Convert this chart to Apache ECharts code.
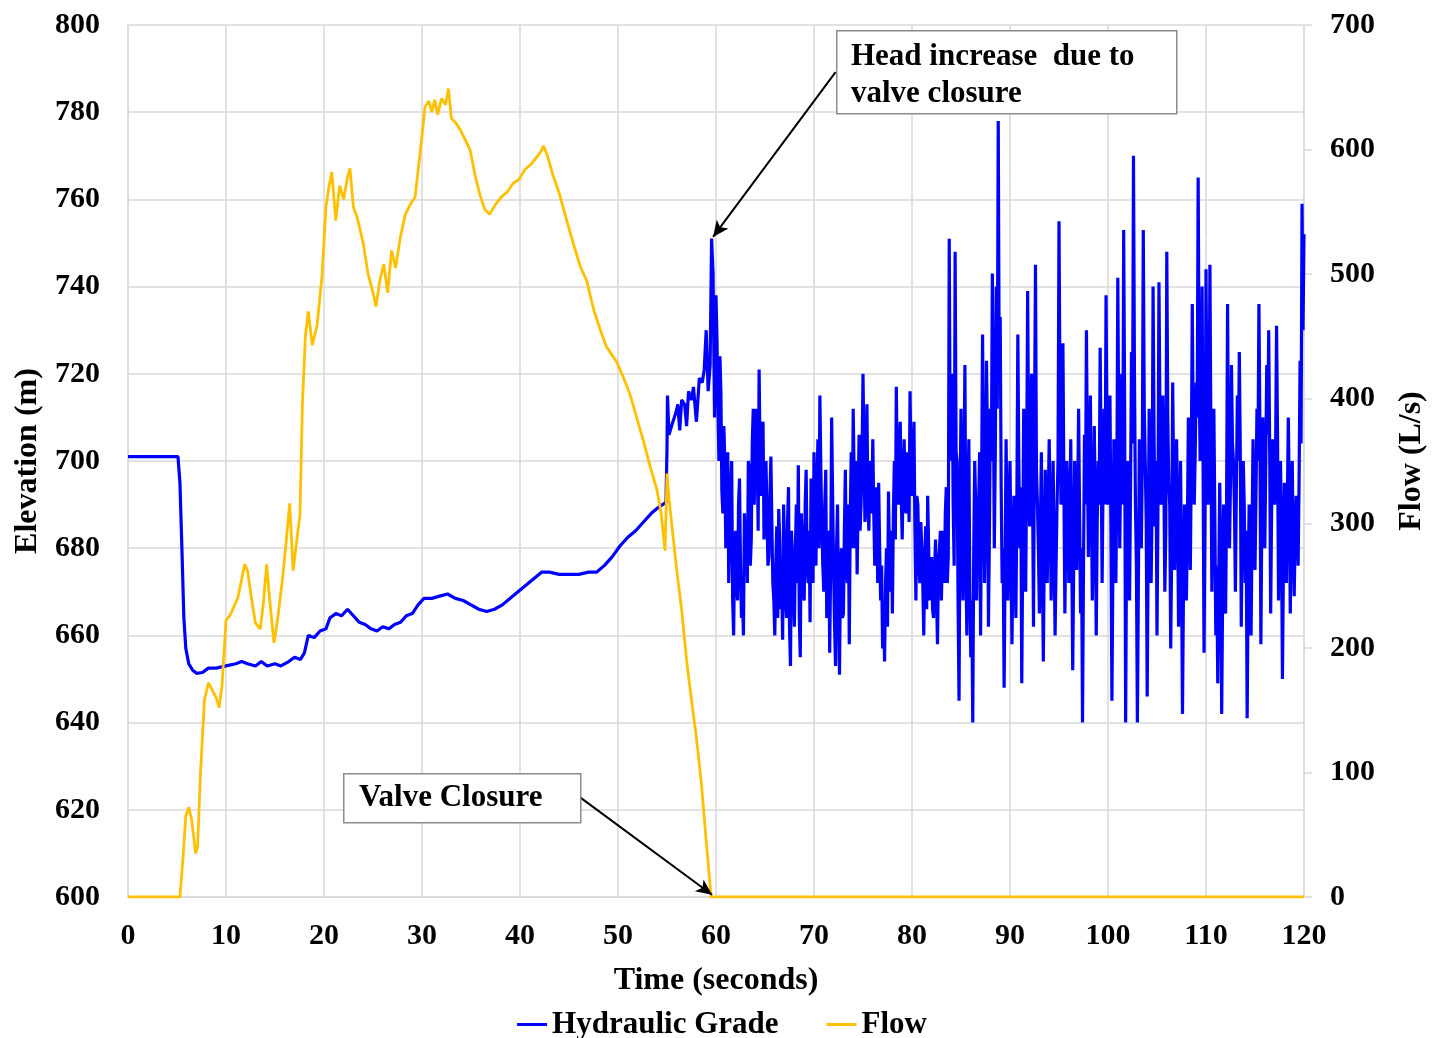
<!DOCTYPE html>
<html lang="en">
<head>
<meta charset="UTF-8">
<title>Hydraulic Grade and Flow</title>
<script src="https://cdn.jsdelivr.net/npm/echarts@6.0.0/dist/echarts.min.js"></script>
<style>
  html, body { margin: 0; padding: 0; background: #fff; }
  #chart { width: 1444px; height: 1038px; }
</style>
</head>
<body>
<div id="chart"></div>
<script type="text/javascript">
// hydraulic grade before the valve shuts: [time s, elevation m]
var headBefore = [
  [0,701],[5.1,701],[5.3,695],[5.5,680],[5.7,664],[5.9,657],[6.2,653.5],[6.6,652],[7.0,651.3],
  [7.6,651.5],[8.2,652.5],[9,652.5],[10,653],[11,653.5],[11.6,654],[12.2,653.5],[13,653],
  [13.6,654],[14.2,653],[15,653.5],[15.6,653],[16.4,654],[17,655],[17.6,654.5],[18.0,656],
  [18.4,660],[19,659.5],[19.6,661],[20.2,661.5],[20.6,664],[21.2,665],[21.8,664.5],[22.4,666],
  [23,664.5],[23.6,663],[24.2,662.5],[24.8,661.5],[25.4,661],[26,662],[26.6,661.5],[27.2,662.5],
  [27.8,663],[28.4,664.5],[29,665],[29.6,667],[30.2,668.5],[31,668.5],[31.8,669],[32.6,669.5],
  [33.4,668.5],[34.2,668],[35,667],[35.8,666],[36.6,665.5],[37.4,666],[38.2,667],[39,668.5],
  [39.8,670],[40.6,671.5],[41.4,673],[42.2,674.5],[43,674.5],[44,674],[45,674],[46,674],
  [47,674.5],[47.8,674.5],[48.6,676],[49.4,678],[50.2,680.5],[51,682.5],[51.8,684],[52.6,686],
  [53.4,688],[54.2,689.5],[54.9,690.5],[55.0,703],[55.05,715],[55.2,706],[55.6,709],[55.9,711],
  [56.1,713],[56.3,707],[56.5,714],[56.8,713],[57.0,708],[57.2,716],[57.5,714],[57.7,717],
  [58.0,709],[58.3,719],[58.6,718],[58.8,721],[59.0,730],[59.2,716],[59.4,722],[59.55,751],
  [59.7,743],[59.85,710]
];

// hydraulic grade after closure: swing readings at 60.0, 60.2, 60.4 ... s
var surgeStart = 60, surgeStep = 0.2;
var headSurge = [
  738,712,724,693,708,  680,702,672,700,660,  684,668,696,664,660,  680,672,698,682,712,
  690,705,721,692,709,  688,700,678,701,672,  660,685,689,666,659,  680,664,694,653,678,
  662,690,699,655,682,  668,698,672,663,690,  702,676,705,715,685,  670,698,666,656,710,
  675,653,690,651,680,  665,698,672,658,702,  712,680,674,706,690,  720,686,713,684,700,
  705,676,690,695,668,  657,654,680,693,670,  665,700,717,690,709,  682,705,688,700,716,
  692,709,668,690,672,  680,660,685,692,668,  678,664,682,658,676,  668,684,688,672,751,
  700,690,748,700,645,  712,668,722,660,705,  655,640,700,668,690,  660,729,672,723,662,
  712,743,680,740,778,  733,672,648,705,668,  700,658,692,664,729,  680,649,712,670,739,
  685,720,662,745,690,  665,702,654,698,672,  705,668,700,660,690,  755,690,727,665,700,
  672,705,652,700,675,  712,665,640,706,730,  678,715,668,708,660,  700,726,672,712,738,
  690,715,645,705,672,  742,680,720,753,640,  700,668,725,770,690,  640,705,680,753,700,
  646,712,672,740,685,  660,741,690,715,670,  748,695,657,718,675,  705,662,700,642,690,
  668,710,675,736,690,  718,765,700,740,656,  744,690,745,670,712,  660,649,695,642,690,
  665,736,680,722,700,  670,715,725,662,700,  672,641,690,660,705,  675,712,736,658,710,
  680,722,730,665,705,  690,731,668,700,650,  695,672,710,665,700,  669,692,676,723,759,
  752
];
// readings in between, at 60.1, 60.3, 60.5 ... s (the dense core of the band)
var headSurgeMid = [
  728,700,716,688,700,  690,672,694,668,680,  672,690,676,670,688,  686,700,676,704,690,
  712,684,700,708,682,  700,676,692,686,668,  676,664,682,672,690,  668,686,662,684,670,
  680,672,664,688,670,  690,676,684,696,672,  688,694,680,698,676,  690,664,684,676,692,
  662,680,668,674,664,  684,676,690,688,680,  696,700,690,684,700,  702,696,690,700,688,
  688,694,672,680,676,  668,672,662,678,684,  688,682,696,704,692,  696,690,702,686,698,
  700,684,692,676,686,  672,678,666,680,676,  666,674,670,676,684,  680,672,694,678,700,
  720,676,702,668,690,  684,698,676,690,670,  668,680,690,684,702,  694,700,688,706,684,
  700,716,702,712,720,  694,680,676,684,690,  680,676,684,690,700,  694,680,690,698,704,
  700,694,708,698,680,  684,676,680,684,690,  688,684,680,676,700,  716,700,694,684,690,
  686,680,676,684,690,  688,680,676,690,700,  696,692,684,690,686,  690,700,696,690,704,
  700,684,676,690,694,  706,700,690,712,684,  688,694,704,720,676,  672,690,700,712,686,
  680,694,690,706,700,  690,712,700,696,684,  710,690,680,696,690,  688,680,676,670,684,
  684,690,700,706,702,  710,720,704,700,686,  712,700,706,690,688,  676,672,680,670,676,
  690,700,696,704,690,  694,700,702,686,690,  684,672,678,684,690,  692,700,708,688,696,
  700,706,702,690,694,  702,706,690,684,676,  684,690,692,686,680,  684,690,696,704,730
];

// flow through the valve: [time s, L/s]
var flowData = [
  [0,0],[5.3,0],[5.6,30],[5.9,65],[6.2,72],[6.5,62],[6.9,35],[7.1,40],[7.4,100],[7.8,158],
  [8.2,172],[8.6,166],[9.0,160],[9.3,152],[9.6,170],[10.0,222],[10.4,226],[10.8,233],[11.2,240],
  [11.6,255],[11.9,267],[12.2,262],[12.5,245],[13.0,220],[13.5,215],[13.8,235],[14.15,267],
  [14.5,235],[14.9,204],[15.3,225],[15.8,258],[16.2,290],[16.5,316],[16.85,262],[17.2,285],
  [17.55,307],[17.8,396],[18.1,450],[18.4,470],[18.8,443],[19.3,459],[19.8,499],[20.2,554],
  [20.5,570],[20.8,582],[21.2,543],[21.6,571],[22.0,560],[22.4,578],[22.65,585],[23.0,554],
  [23.4,545],[24.0,525],[24.5,500],[25.0,485],[25.3,474],[25.7,495],[26.1,508],[26.5,485],
  [26.9,519],[27.3,505],[27.8,530],[28.3,548],[28.8,556],[29.3,562],[29.7,590],[30.0,611],
  [30.3,634],[30.7,639],[31.0,630],[31.3,640],[31.6,628],[32.0,641],[32.4,636],[32.7,649],
  [33.0,625],[33.4,622],[33.9,616],[34.4,608],[34.9,600],[35.4,580],[35.9,564],[36.4,552],
  [36.9,548],[37.5,556],[38.1,562],[38.7,566],[39.3,573],[39.9,576],[40.5,584],[41.1,588],
  [41.7,594],[42.1,598],[42.4,603],[42.8,595],[43.3,581],[44.0,565],[44.7,545],[45.5,523],
  [46.2,505],[46.8,495],[47.5,472],[48.2,455],[48.8,442],[49.4,435],[49.9,429],[50.5,418],
  [51.2,404],[51.9,385],[52.6,366],[53.3,345],[54.0,326],[54.4,308],[54.8,278],[55.0,340],
  [55.2,320],[55.5,298],[56.0,262],[56.5,230],[57.0,190],[57.5,158],[58.0,128],[58.5,92],
  [59.0,45],[59.5,0],[120,0]
];

var serif = '"Liberation Serif", "Times New Roman", serif';
var gridGray = '#d9d9d9';

// merge the two surge lists in time order
var headData = headBefore.slice();
for (var i = 0; i < headSurge.length; i++) {
  var t = surgeStart + i * surgeStep;
  headData.push([+t.toFixed(1), headSurge[i]]);
  if (i < headSurgeMid.length) {
    headData.push([+(t + surgeStep / 2).toFixed(1), headSurgeMid[i]]);
  }
}

var myChart = echarts.init(document.getElementById('chart'));

myChart.setOption({
  animation: false,
  backgroundColor: '#fff',
  grid: { left: 128, right: 140, top: 25, bottom: 141, containLabel: false, outerBoundsMode: 'none' },
  legend: {
    top: 1004,
    left: 'center',
    itemGap: 48,
    itemWidth: 30,
    itemHeight: 3,
    icon: 'rect',
    textStyle: { fontFamily: serif, fontWeight: 'bold', fontSize: 31, color: '#000' },
    data: ['Hydraulic Grade', 'Flow']
  },
  xAxis: {
    type: 'value',
    min: 0, max: 120, interval: 10,
    name: 'Time (seconds)',
    nameLocation: 'middle',
    nameGap: 68,
    nameTextStyle: { fontFamily: serif, fontWeight: 'bold', fontSize: 32, color: '#000' },
    axisLine: { show: true, lineStyle: { color: gridGray, width: 1.5 } },
    axisTick: { show: false },
    axisLabel: { margin: 24, fontFamily: serif, fontWeight: 'bold', fontSize: 30, color: '#000' },
    splitLine: { show: true, lineStyle: { color: gridGray, width: 1.5 } }
  },
  yAxis: [{
    type: 'value',
    min: 600, max: 800, interval: 20,
    name: 'Elevation (m)',
    nameLocation: 'middle',
    nameGap: 79,
    nameTextStyle: { fontFamily: serif, fontWeight: 'bold', fontSize: 32, color: '#000' },
    axisLine: { show: true, lineStyle: { color: gridGray, width: 1.5 } },
    axisTick: { show: false },
    axisLabel: { margin: 28, fontFamily: serif, fontWeight: 'bold', fontSize: 30, color: '#000' },
    splitLine: { show: true, lineStyle: { color: gridGray, width: 1.5 } }
  }, {
    type: 'value',
    position: 'right',
    min: 0, max: 700, interval: 100,
    name: 'Flow (L/s)',
    nameLocation: 'middle',
    nameGap: 92,
    nameTextStyle: { fontFamily: serif, fontWeight: 'bold', fontSize: 32, color: '#000' },
    axisLine: { show: true, lineStyle: { color: gridGray, width: 1.5 } },
    axisTick: { show: true, length: 8, lineStyle: { color: gridGray, width: 1.5 } },
    axisLabel: { margin: 26, fontFamily: serif, fontWeight: 'bold', fontSize: 30, color: '#000' },
    splitLine: { show: false }
  }],
  series: [{
    name: 'Hydraulic Grade',
    type: 'line',
    yAxisIndex: 0,
    data: headData,
    showSymbol: false,
    symbol: 'none',
    sampling: 'none',
    color: '#0000ff',
    lineStyle: { color: '#0000ff', width: 3.2 },
    markLine: {
      silent: true,
      symbol: ['none', 'arrow'],
      symbolSize: [11, 16],
      label: { show: false },
      lineStyle: { color: '#000', width: 2, type: 'solid' },
      data: [
        [{ coord: [72.2, 789.2] }, { coord: [59.7, 751.4] }],
        [{ coord: [46.1, 622.9] }, { coord: [59.6, 600.5] }]
      ]
    }
  }, {
    name: 'Flow',
    type: 'line',
    yAxisIndex: 1,
    data: flowData,
    showSymbol: false,
    symbol: 'none',
    color: '#ffc000',
    lineStyle: { color: '#ffc000', width: 2.8 }
  }],
  graphic: [
    {
      type: 'rect', left: 836, top: 30, z: 100,
      shape: { width: 340, height: 83 },
      style: { fill: '#fff', stroke: '#8c8c8c', lineWidth: 1.5 }
    },
    {
      type: 'text', left: 851, top: 38, z: 101,
      style: { text: 'Head increase  due to\nvalve closure', font: 'bold 31px ' + serif, fill: '#000', lineHeight: 37 }
    },
    {
      type: 'rect', left: 343, top: 773, z: 100,
      shape: { width: 237, height: 49 },
      style: { fill: '#fff', stroke: '#8c8c8c', lineWidth: 1.5 }
    },
    {
      type: 'text', left: 359, top: 782, z: 101,
      style: { text: 'Valve Closure', font: 'bold 31px ' + serif, fill: '#000' }
    }
  ]
});
</script>
</body>
</html>
